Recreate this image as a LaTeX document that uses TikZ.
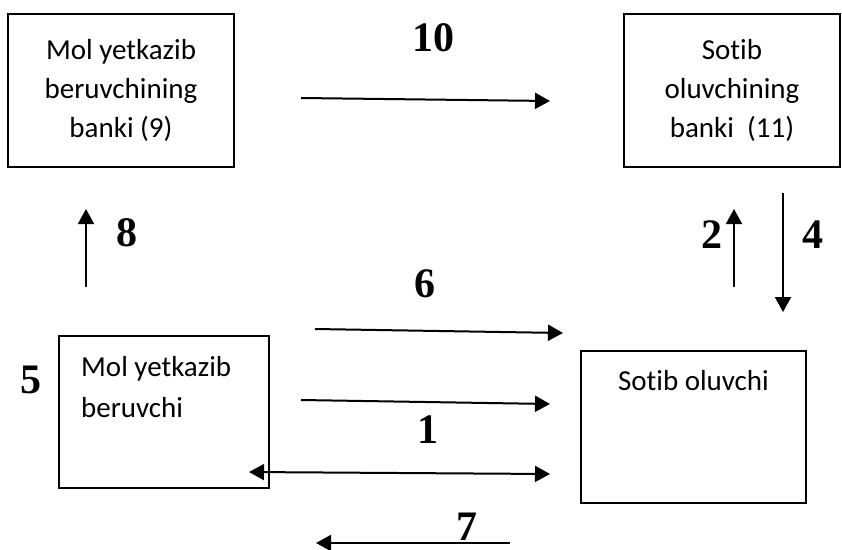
\documentclass[tikz,border=0pt]{standalone}
\usepackage{fontspec}
\setmainfont[Ligatures=NoCommon]{Carlito}
\newfontfamily\numfont{Liberation Serif}
\usetikzlibrary{arrows.meta,positioning}
\tikzset{
  head/.tip={Triangle[length=15pt,width=16pt]},
  box/.style={draw,line width=1.5pt,inner sep=0pt},
  txt/.style={font=\fontsize{29}{39}\selectfont,inner sep=0pt},
  num/.style={font=\numfont\bfseries\fontsize{42}{42}\selectfont,inner sep=0pt},
  flow/.style={line width=2pt,-head},
  twoway/.style={line width=2pt,head-head}
}
\begin{document}
\begin{tikzpicture}[x=1pt,y=-1pt]
\useasboundingbox (0,0) rectangle (842,549);
% banks
\node[box,txt,align=center,minimum width=226pt,minimum height=153pt] (sbank) at (121,90.5) {Mol yetkazib\\beruvchining\\banki (9)};
\node[box,txt,align=center,minimum width=216pt,minimum height=153pt] (bbank) at (732,90.5) {Sotib\\oluvchining\\banki\ \ (11)};
% seller and buyer
\node[box,minimum width=210pt,minimum height=152pt] (seller) at (164,412) {};
\node[txt,font=\fontsize{29}{41}\selectfont,align=left,anchor=base west] (sellertxt) at (81,417) {Mol yetkazib\\beruvchi};
\node[box,minimum width=225pt,minimum height=152pt] (buyer) at (693.5,427) {};
\node[txt,anchor=base] (buyertxt) at (693.5,390) {Sotib oluvchi};
% arrow ends
\coordinate (p10a) at (301,98);  \coordinate (p10b) at (550,101);
\coordinate (p8a) at (86,287);   \coordinate (p8b) at (86,209);
\coordinate (p2a) at (734,287);  \coordinate (p2b) at (734,209);
\coordinate (p4a) at (783,193);  \coordinate (p4b) at (783,312);
\coordinate (p6a) at (315,329);  \coordinate (p6b) at (563,333);
\coordinate (p1a) at (301,400);  \coordinate (p1b) at (550,404);
\coordinate (p3a) at (249,472);  \coordinate (p3b) at (550,474);
\coordinate (p7a) at (510,543);  \coordinate (p7b) at (316,543);
\draw[flow] (p10a) -- (p10b);
\draw[flow] (p8a) -- (p8b);
\draw[flow] (p2a) -- (p2b);
\draw[flow] (p4a) -- (p4b);
\draw[flow] (p6a) -- (p6b);
\draw[flow] (p1a) -- (p1b);
\draw[twoway] (p3a) -- (p3b);
\draw[flow] (p7a) -- (p7b);
% step numbers
\node[num] (n10) at (433,38) {10};
\node[num] (n8) at (127,233) {8};
\node[num] (n2) at (712,235) {2};
\node[num] (n4) at (813,235) {4};
\node[num] (n6) at (425,284) {6};
\node[num] (n1) at (428,430) {1};
\node[num] (n5) at (31,380) {5};
\node[num] (n7) at (467,527) {7};
\end{tikzpicture}
\end{document}
